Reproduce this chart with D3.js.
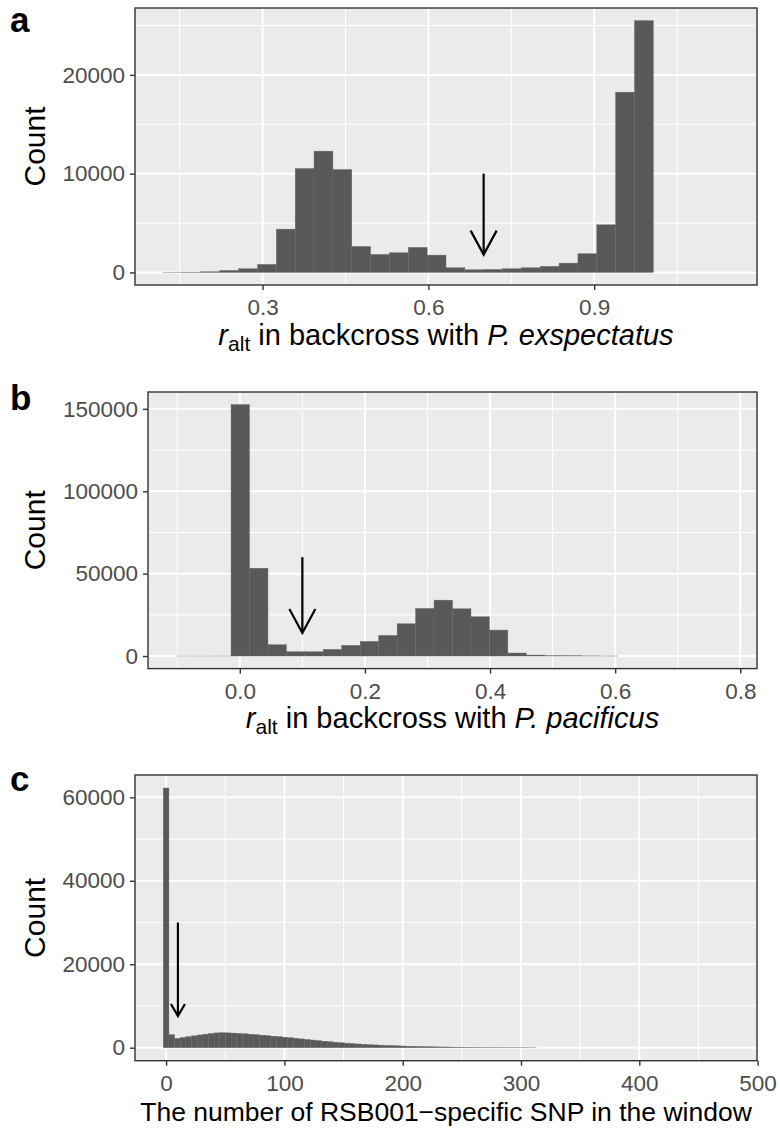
<!DOCTYPE html>
<html>
<head>
<meta charset="utf-8">
<script src="https://cdn.jsdelivr.net/npm/d3@7"></script>
<style>
  body { margin: 0; background: #fff; }
  text { font-family: "Liberation Sans", Arial, sans-serif; }
</style>
</head>
<body>
<div id="canvas"></div>
<script>
"use strict"

/* ---- data: panel a (r_alt, backcross with P. exspectatus) ---- */
let aBinStart = 0.1204;
let aBinWidth = 0.0341;
let aCounts = [5, 30, 70, 200, 370, 810, 4380, 10520, 12280, 10420,
    2630, 1820, 1990, 2530, 1750, 470, 270, 300, 370, 470,
    610, 940, 1890, 4820, 18250, 25500, 0, 0, 0, 0];
let aTicksX = [0.3, 0.6, 0.9];
let aMinorX = [0.15, 0.45, 0.75, 1.05];
let aTicksY = [0, 10000, 20000];
let aMinorY = [5000, 15000, 25000];
let aArrow = { x: 0.7, from: 10000, to: 1800 };

/* ---- data: panel b (r_alt, backcross with P. pacificus) ---- */
let bBinStart = -0.1025;
let bBinWidth = 0.0295;
let bCounts = [3, 10, 30, 152600, 53300, 6860, 2620, 2620, 4040, 6460,
    8880, 12500, 19580, 28870, 33920, 28670, 23820, 15750, 1820, 600,
    200, 150, 80, 30, 0, 0, 0, 0, 0, 0];
let bTicksX = [0, 0.2, 0.4, 0.6, 0.8];
let bMinorX = [-0.1, 0.1, 0.3, 0.5, 0.7];
let bTicksY = [0, 50000, 100000, 150000];
let bMinorY = [25000, 75000, 125000];
let bArrow = { x: 0.1, from: 60000, to: 14000 };

/* ---- data: panel c (RSB001-specific SNPs per window) ---- */
let cBinStart = -2.39;
let cBinWidth = 4.78;
let cCounts = [62240, 3100, 2250, 2450, 2650, 2850, 3050, 3250, 3400, 3550,
    3600, 3550, 3500, 3420, 3330, 3230, 3120, 3000, 2880, 2760,
    2640, 2510, 2380, 2250, 2110, 1970, 1830, 1690, 1560, 1430,
    1310, 1200, 1090, 990, 900, 820, 740, 670, 610, 550,
    500, 450, 400, 360, 320, 290, 260, 230, 200, 180,
    160, 140, 120, 105, 90, 80, 70, 60, 50, 45,
    40, 35, 30, 25, 20, 15, 0, 0, 0, 0,
    0, 0, 0, 0, 0, 0, 0, 0, 0, 0,
    0, 0, 0, 0, 0, 0, 0, 0, 0, 0,
    0, 0, 0, 0, 0, 0, 0, 0, 0, 0];
let cTicksX = [0, 100, 200, 300, 400, 500];
let cMinorX = [50, 150, 250, 350, 450];
let cTicksY = [0, 20000, 40000, 60000];
let cMinorY = [10000, 30000, 50000];
let cArrow = { x: 10, from: 30000, to: 7600 };

/* ---- drawing ---- */
let svgWidth = 780;
let svgHeight = 1131;

let svg = d3.select("#canvas")
    .append("svg")
    .attr("width", svgWidth)
    .attr("height", svgHeight);

let panels = [
    { letter: "a", start: aBinStart, width: aBinWidth, counts: aCounts,
      ticksX: aTicksX, minorX: aMinorX, ticksY: aTicksY, minorY: aMinorY, arrow: aArrow,
      left: 135, right: 757, top: 8, bottom: 285, letterY: 32, titleY: 345, titleSize: 29,
      headW: 13, headL: 24, fmt: d3.format(".1f") },
    { letter: "b", start: bBinStart, width: bBinWidth, counts: bCounts,
      ticksX: bTicksX, minorX: bMinorX, ticksY: bTicksY, minorY: bMinorY, arrow: bArrow,
      left: 148, right: 757, top: 392, bottom: 668.6, letterY: 410, titleY: 728, titleSize: 29,
      headW: 13, headL: 24, fmt: d3.format(".1f") },
    { letter: "c", start: cBinStart, width: cBinWidth, counts: cCounts,
      ticksX: cTicksX, minorX: cMinorX, ticksY: cTicksY, minorY: cMinorY, arrow: cArrow,
      left: 135, right: 757, top: 775, bottom: 1060.7, letterY: 791, titleY: 1121, titleSize: 26.5,
      headW: 7, headL: 12, fmt: d3.format("d") }
];

panels.forEach(drawPanel);

function drawPanel(p) {
    let n = p.counts.length;
    let lo = p.start, hi = p.start + n * p.width;
    let padX = (hi - lo) * 0.05;
    let maxY = d3.max(p.counts);

    let x = d3.scaleLinear()
        .domain([lo - padX, hi + padX])
        .range([p.left, p.right]);
    let y = d3.scaleLinear()
        .domain([-maxY * 0.05, maxY * 1.05])
        .range([p.bottom, p.top]);

    let g = svg.append("g");

    // panel background
    g.append("rect")
        .attr("x", p.left).attr("y", p.top)
        .attr("width", p.right - p.left).attr("height", p.bottom - p.top)
        .attr("fill", "#EBEBEB");

    // minor grid
    g.selectAll(".mnx").data(p.minorX).join("line")
        .attr("x1", d => x(d)).attr("x2", d => x(d))
        .attr("y1", p.top).attr("y2", p.bottom)
        .attr("stroke", "#fff").attr("stroke-width", 1);
    g.selectAll(".mny").data(p.minorY).join("line")
        .attr("x1", p.left).attr("x2", p.right)
        .attr("y1", d => y(d)).attr("y2", d => y(d))
        .attr("stroke", "#fff").attr("stroke-width", 1);

    // major grid
    g.selectAll(".mjx").data(p.ticksX).join("line")
        .attr("x1", d => x(d)).attr("x2", d => x(d))
        .attr("y1", p.top).attr("y2", p.bottom)
        .attr("stroke", "#fff").attr("stroke-width", 2);
    g.selectAll(".mjy").data(p.ticksY).join("line")
        .attr("x1", p.left).attr("x2", p.right)
        .attr("y1", d => y(d)).attr("y2", d => y(d))
        .attr("stroke", "#fff").attr("stroke-width", 2);

    // bars
    g.selectAll(".bar").data(p.counts).join("rect")
        .attr("x", (d, i) => x(p.start + i * p.width))
        .attr("width", (d, i) => x(p.start + (i + 1) * p.width) - x(p.start + i * p.width))
        .attr("y", d => y(d))
        .attr("height", d => y(0) - y(d))
        .attr("fill", "#595959")
        .attr("stroke", d => d > 0 ? "#666" : "none")
        .attr("stroke-width", 0.4);

    // arrow
    let ax = x(p.arrow.x), ay0 = y(p.arrow.from), ay1 = y(p.arrow.to);
    g.append("line")
        .attr("x1", ax).attr("x2", ax)
        .attr("y1", ay0).attr("y2", ay1)
        .attr("stroke", "black").attr("stroke-width", 2.2);
    g.append("polyline")
        .attr("points", [[ax - p.headW, ay1 - p.headL], [ax, ay1], [ax + p.headW, ay1 - p.headL]].join(" "))
        .attr("fill", "none").attr("stroke", "black").attr("stroke-width", 2.2);

    // panel border
    g.append("rect")
        .attr("x", p.left).attr("y", p.top)
        .attr("width", p.right - p.left).attr("height", p.bottom - p.top)
        .attr("fill", "none").attr("stroke", "#333").attr("stroke-width", 1.4);

    // axes
    let xAxis = g.append("g")
        .attr("transform", "translate(0," + p.bottom + ")")
        .call(d3.axisBottom(x).tickValues(p.ticksX).tickFormat(p.fmt).tickSize(5).tickPadding(8));
    let yAxis = g.append("g")
        .attr("transform", "translate(" + p.left + ",0)")
        .call(d3.axisLeft(y).tickValues(p.ticksY).tickFormat(d3.format("d")).tickSize(5).tickPadding(5));
    [xAxis, yAxis].forEach(a => {
        a.select(".domain").remove();
        a.selectAll(".tick line").attr("stroke", "#333").attr("stroke-width", 1.4);
        a.selectAll(".tick text")
            .attr("fill", "#4D4D4D")
            .style("font-size", "22.5px")
            .style("font-family", "'Liberation Sans', Arial, sans-serif");
    });
    xAxis.selectAll(".tick text").attr("dy", "0.76em");

    // y title
    svg.append("text")
        .attr("transform", "translate(45," + ((p.top + p.bottom) / 2) + ") rotate(-90)")
        .attr("text-anchor", "middle")
        .style("font-size", "30px")
        .text("Count");

    // panel letter
    svg.append("text")
        .attr("x", 10).attr("y", p.letterY)
        .style("font-size", "35px").style("font-weight", "bold")
        .text(p.letter);

    // x title
    let t = svg.append("text")
        .attr("x", (p.left + p.right) / 2)
        .attr("y", p.titleY)
        .attr("text-anchor", "middle")
        .style("font-size", p.titleSize + "px");
    if (p.letter === "c") {
        t.text("The number of RSB001\u2212specific SNP in the window");
    } else {
        t.append("tspan").style("font-style", "italic").text("r");
        t.append("tspan").attr("dy", 6).style("font-size", "21px").text("alt");
        t.append("tspan").attr("dy", -6).text(" in backcross with ");
        t.append("tspan").style("font-style", "italic")
            .text(p.letter === "a" ? "P. exspectatus" : "P. pacificus");
    }
}
</script>
</body>
</html>
